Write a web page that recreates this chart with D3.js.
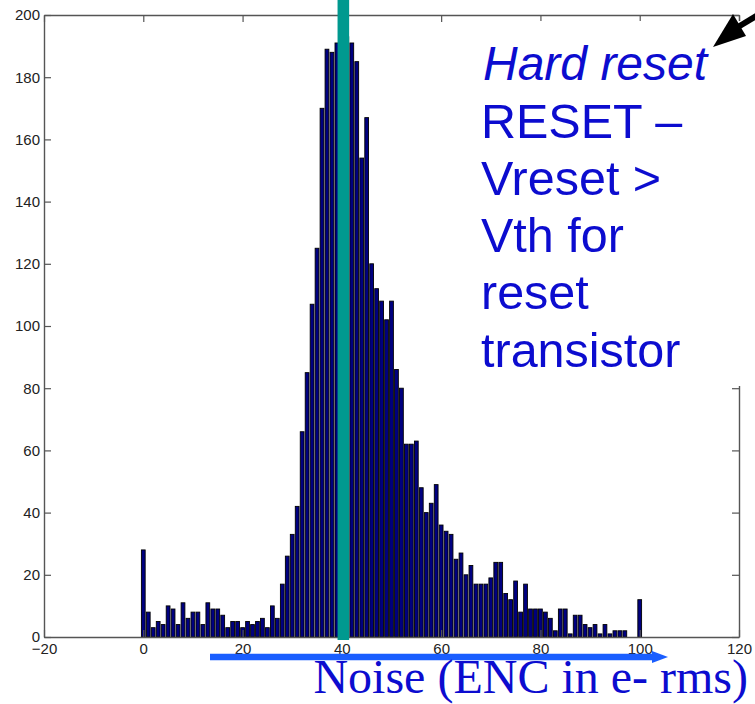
<!DOCTYPE html>
<html>
<head>
<meta charset="utf-8">
<script src="https://cdn.jsdelivr.net/npm/d3@7"></script>
<style>
  html, body { margin: 0; padding: 0; background: #fff; }
  svg { display: block; }
</style>
</head>
<body>
<svg id="chart" width="755" height="704"></svg>
<script>
// Noise histogram: pixel counts per 1 e- rms bin (bins centred on 0..100)
const binCenters = d3.range(0, 101);
const pixelCounts = [
  28, 8, 3, 5, 4, 10, 9, 4, 11, 6,
  8, 8, 4, 11, 9, 9, 7, 3, 5, 5,
  3, 5, 4, 5, 6, 3, 10, 6, 17, 26,
  33, 42, 66, 85, 107, 125, 170, 189, 188, 191,
  195, 193, 191, 185, 154, 167, 120, 112, 108, 102,
  108, 86, 80, 62, 62, 63, 48, 40, 43, 49,
  36, 34, 33, 25, 27, 20, 23, 17, 17, 17,
  19, 24, 24, 14, 12, 18, 8, 17, 9, 9,
  9, 8, 6, 2, 9, 9, 1, 7, 7, 4,
  3, 4, 1, 4, 1, 2, 2, 2, 0, 0,
  12
];
const xTicks = [-20, 0, 20, 40, 60, 80, 100, 120];
const yTicks = [0, 20, 40, 60, 80, 100, 120, 140, 160, 180, 200];
const markerValue = 40.3;   // highlighted noise level
const noteItalic = "Hard reset";
const noteLines = ["RESET \u2013", "Vreset >", "Vth for", "reset", "transistor"];
const xTitle = "Noise (ENC in e- rms)";

const svg = d3.select("#chart");
const x = d3.scaleLinear().domain([-20, 120]).range([44, 739]);
const y = d3.scaleLinear().domain([0, 200]).range([637, 15]);

// histogram bars
const bw = x(1) - x(0);
svg.append("g").selectAll("rect")
  .data(binCenters.map((c, i) => ({ c, v: pixelCounts[i] })).filter(d => d.v > 0))
  .join("rect")
  .attr("x", d => x(d.c - 0.5) + 0.6)
  .attr("width", bw - 1.2)
  .attr("y", d => y(d.v))
  .attr("height", d => y(0) - y(d.v))
  .attr("fill", "#000080")
  .attr("stroke", "#000")
  .attr("stroke-width", 0.9);

// axes box with inward ticks
const axisColor = "#555";
const tickLen = 7;
const fontTicks = "'Liberation Sans', Arial, Helvetica, sans-serif";

const axBottom = svg.append("g").attr("transform", `translate(0,${y(0)})`)
  .call(d3.axisBottom(x).tickValues(xTicks).tickSizeInner(-tickLen).tickSizeOuter(0).tickPadding(10).tickFormat(d3.format("d")));
const axTop = svg.append("g").attr("transform", `translate(0,${y(200)})`)
  .call(d3.axisTop(x).tickValues(xTicks).tickSizeInner(-tickLen).tickSizeOuter(0).tickFormat(""));
const axLeft = svg.append("g").attr("transform", `translate(${x(-20)},0)`)
  .call(d3.axisLeft(y).tickValues(yTicks).tickSizeInner(-tickLen).tickSizeOuter(0).tickPadding(4).tickFormat(d3.format("d")));
const axRight = svg.append("g").attr("transform", `translate(${x(120)},0)`)
  .call(d3.axisRight(y).tickValues(yTicks).tickSizeInner(-tickLen).tickSizeOuter(0).tickFormat(""));

[axBottom, axTop, axLeft, axRight].forEach(g => {
  g.select(".domain").attr("stroke", axisColor).attr("stroke-width", 1.4);
  g.selectAll(".tick line").attr("stroke", axisColor).attr("stroke-width", 1.2);
  g.selectAll(".tick text")
    .attr("fill", "#222")
    .style("font-family", fontTicks)
    .style("font-size", "15px");
});
axBottom.selectAll(".tick text").attr("dy", "0.71em").attr("y", 6);

// highlighted noise level
svg.append("rect")
  .attr("x", x(markerValue) - 5.8)
  .attr("width", 11.6)
  .attr("y", 0)
  .attr("height", y(0) + 3)
  .attr("fill", "#00998f");

// annotation panel
const panel = svg.append("g");
panel.append("rect")
  .attr("x", 468).attr("y", 21)
  .attr("width", 755 - 468).attr("height", 386 - 21)
  .attr("fill", "#fff");

const noteFont = "'Liberation Sans', Arial, Helvetica, sans-serif";
const noteColor = "#0c0ccf";
panel.append("text")
  .attr("x", 483).attr("y", 80)
  .attr("fill", noteColor)
  .style("font-family", noteFont)
  .style("font-size", "48px")
  .style("font-style", "italic")
  .text(noteItalic);
panel.selectAll("text.line")
  .data(noteLines)
  .join("text")
  .attr("class", "line")
  .attr("x", 481)
  .attr("y", (d, i) => 137.5 + i * 57.3)
  .attr("fill", noteColor)
  .style("font-family", noteFont)
  .style("font-size", "48.5px")
  .text(d => d);

// black pointer arrow at the top right
svg.append("line")
  .attr("x1", 758).attr("y1", 15)
  .attr("x2", 738).attr("y2", 27)
  .attr("stroke", "#000").attr("stroke-width", 6);
svg.append("path")
  .attr("d", "M713,47 L733,14 L746,36 Z")
  .attr("fill", "#000");

// x-axis title with blue arrow
const arrowY = 657;
svg.append("line")
  .attr("x1", 210).attr("y1", arrowY)
  .attr("x2", 654).attr("y2", arrowY)
  .attr("stroke", "#1a5eff").attr("stroke-width", 6.5);
svg.append("path")
  .attr("d", `M668,${arrowY} L652,${arrowY - 6} L652,${arrowY + 6} Z`)
  .attr("fill", "#1a5eff");

svg.append("text")
  .attr("x", 748).attr("y", 693)
  .attr("text-anchor", "end")
  .attr("fill", noteColor)
  .style("font-family", "'Liberation Serif', 'Times New Roman', Times, serif")
  .style("font-size", "48px")
  .text(xTitle);
</script>
</body>
</html>
